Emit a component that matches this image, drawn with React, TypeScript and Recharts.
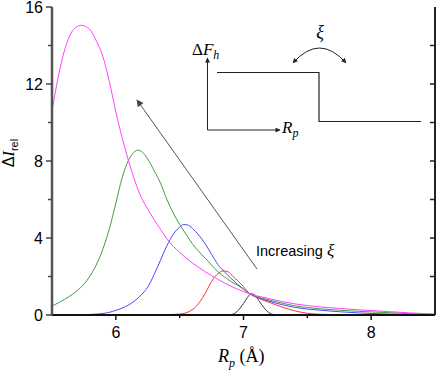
import React from 'react';
import { LineChart, Line, XAxis, YAxis } from 'recharts';

// R_p (Å) sample positions and ΔI_rel values, one pair of arrays per curve (ξ increasing: black -> magenta)
const rpBlack = [5.5, 6.88, 6.92, 6.96, 7.0, 7.03, 7.06, 7.09, 7.12, 7.16, 7.2, 7.24, 7.3, 8.5];
const diBlack = [0, 0, 0.05, 0.25, 0.6, 0.9, 1.1, 1.02, 0.75, 0.38, 0.12, 0.02, 0, 0];

const rpRed = [5.5, 6.0, 6.3, 6.4, 6.5, 6.55, 6.6, 6.63, 6.66, 6.7, 6.73, 6.76, 6.8, 6.84, 6.88, 6.92, 6.96, 7.0, 7.05, 7.1, 7.15, 7.2, 7.3, 7.4, 7.5, 7.6, 7.8, 8.0, 8.5];
const diRed = [0, 0, 0.01, 0.02, 0.05, 0.11, 0.28, 0.45, 0.7, 1.12, 1.5, 1.85, 2.15, 2.29, 2.24, 1.99, 1.75, 1.47, 1.1, 0.92, 0.78, 0.66, 0.42, 0.22, 0.09, 0.04, 0.01, 0, 0];

const rpBlue = [5.5, 5.7, 5.8, 5.9, 5.95, 6.0, 6.05, 6.1, 6.15, 6.2, 6.25, 6.3, 6.35, 6.4, 6.45, 6.5, 6.53, 6.56, 6.6, 6.65, 6.7, 6.75, 6.8, 6.85, 6.9, 7.0, 7.05, 7.1, 7.2, 7.3, 7.4, 7.5, 7.6, 7.75, 7.9, 8.0, 8.15, 8.3, 8.5];
const diBlue = [0, 0.01, 0.03, 0.08, 0.14, 0.24, 0.36, 0.52, 0.75, 1.05, 1.45, 2.1, 2.85, 3.6, 4.2, 4.57, 4.7, 4.68, 4.5, 4.15, 3.7, 3.15, 2.62, 2.25, 1.92, 1.35, 1.1, 0.95, 0.72, 0.54, 0.4, 0.31, 0.25, 0.17, 0.11, 0.08, 0.05, 0.03, 0.01];

const rpGreen = [5.5, 5.55, 5.6, 5.65, 5.7, 5.75, 5.8, 5.85, 5.9, 5.95, 6.0, 6.05, 6.1, 6.15, 6.17, 6.2, 6.25, 6.3, 6.35, 6.4, 6.45, 6.5, 6.55, 6.6, 6.65, 6.7, 6.8, 6.9, 7.0, 7.05, 7.1, 7.2, 7.3, 7.4, 7.5, 7.6, 7.75, 7.9, 8.0, 8.15, 8.3, 8.5];
const diGreen = [0.47, 0.63, 0.82, 1.03, 1.28, 1.6, 2.05, 2.65, 3.45, 4.5, 5.8, 7.15, 8.05, 8.5, 8.57, 8.5, 8.1, 7.5, 6.85, 6.0, 5.3, 4.7, 4.2, 3.7, 3.3, 2.95, 2.25, 1.75, 1.35, 1.1, 0.97, 0.78, 0.62, 0.48, 0.39, 0.32, 0.25, 0.19, 0.16, 0.12, 0.07, 0.03];

const rpMagenta = [5.5, 5.55, 5.6, 5.65, 5.7, 5.73, 5.76, 5.8, 5.85, 5.9, 5.95, 6.0, 6.05, 6.1, 6.15, 6.2, 6.25, 6.3, 6.35, 6.4, 6.5, 6.6, 6.7, 6.8, 6.9, 7.0, 7.05, 7.1, 7.2, 7.3, 7.4, 7.5, 7.6, 7.75, 7.9, 8.0, 8.15, 8.3, 8.5];
const diMagenta = [10.6, 12.4, 13.8, 14.65, 15.0, 15.05, 15.0, 14.8, 14.2, 13.4, 12.1, 10.55, 9.2, 8.0, 6.95, 6.1, 5.5, 4.95, 4.45, 3.95, 3.25, 2.7, 2.25, 1.85, 1.5, 1.22, 1.1, 1.0, 0.85, 0.7, 0.58, 0.49, 0.42, 0.34, 0.27, 0.23, 0.17, 0.11, 0.05];

const xTicks = [6, 6.5, 7, 7.5, 8];
const yTicks = [0, 2, 4, 6, 8, 10, 12, 14, 16];
const rightTicks = [2, 4, 6, 8, 10, 12, 14];

const toRows = (rp: number[], di: number[]) => rp.map((r, i) => ({ r, v: di[i] }));

const series = [
  { name: 'black', color: '#333333', data: toRows(rpBlack, diBlack) },
  { name: 'red', color: '#ff3434', data: toRows(rpRed, diRed) },
  { name: 'blue', color: '#4848ff', data: toRows(rpBlue, diBlue) },
  { name: 'green', color: '#3f9f3f', data: toRows(rpGreen, diGreen) },
  { name: 'magenta', color: '#ff40ff', data: toRows(rpMagenta, diMagenta) },
];

const sans = '"Liberation Sans", Arial, sans-serif';
const serif = '"Liberation Serif", "Times New Roman", serif';

const BottomTick = (props: any) => {
  const { x, y, payload } = props;
  const major = Number.isInteger(payload.value);
  return (
    <g>
      <line x1={x} y1={y} x2={x} y2={y + (major ? 5 : 3)} stroke="#111" strokeWidth={1.5} />
      {major && (
        <text x={x} y={y + 23} textAnchor="middle" fontSize={16} fontFamily={sans} fill="#000">
          {payload.value}
        </text>
      )}
    </g>
  );
};

const LeftTick = (props: any) => {
  const { x, y, payload } = props;
  const major = payload.value % 4 === 0;
  return (
    <g>
      <line x1={x} y1={y} x2={x - (major ? 6 : 4)} y2={y} stroke="#444" strokeWidth={1.5} />
      {major && (
        <text x={x - 9} y={y + 5.5} textAnchor="end" fontSize={16} fontFamily={sans} fill="#000">
          {payload.value}
        </text>
      )}
    </g>
  );
};

const TopTick = (props: any) => {
  const { x, y } = props;
  return <line x1={x} y1={y} x2={x} y2={y + 6} stroke="#444" strokeWidth={1.5} />;
};

const RightTick = (props: any) => {
  const { x, y } = props;
  return <line x1={x} y1={y} x2={x - 5} y2={y} stroke="#222" strokeWidth={1.5} />;
};

export default function App() {
  return (
    <div style={{ position: 'absolute', left: 0, top: 0, width: 436, height: 372, background: '#fff' }}>
      <LineChart width={436} height={372} margin={{ top: 7, right: 0, bottom: 0, left: 0 }}>
        <XAxis
          xAxisId="main"
          dataKey="r"
          type="number"
          domain={[5.5, 8.5]}
          ticks={xTicks}
          interval={0}
          allowDataOverflow
          height={57}
          tickSize={0}
          tickMargin={0}
          tickLine={false}
          axisLine={{ stroke: '#111', strokeWidth: 2 }}
          tick={<BottomTick />}
        />
        <XAxis
          xAxisId="top"
          orientation="top"
          type="number"
          domain={[5.5, 8.5]}
          ticks={xTicks}
          interval={0}
          allowDataOverflow
          height={0}
          tickSize={0}
          tickMargin={0}
          tickLine={false}
          axisLine={{ stroke: '#555', strokeWidth: 2.5 }}
          tick={<TopTick />}
        />
        <YAxis
          yAxisId="main"
          type="number"
          domain={[0, 16]}
          ticks={yTicks}
          interval={0}
          allowDataOverflow
          width={52}
          tickSize={0}
          tickMargin={0}
          tickLine={false}
          axisLine={{ stroke: '#555', strokeWidth: 2.5 }}
          tick={<LeftTick />}
        />
        <YAxis
          yAxisId="right"
          orientation="right"
          type="number"
          domain={[0, 16]}
          ticks={rightTicks}
          interval={0}
          allowDataOverflow
          width={1}
          tickSize={0}
          tickMargin={0}
          tickLine={false}
          axisLine={{ stroke: '#222', strokeWidth: 2 }}
          tick={<RightTick />}
        />
        {series.map((s) => (
          <Line
            key={s.name}
            xAxisId="main"
            yAxisId="main"
            data={s.data}
            dataKey="v"
            type="monotone"
            stroke={s.color}
            strokeWidth={1}
            dot={false}
            activeDot={false}
            isAnimationActive={false}
          />
        ))}
      </LineChart>
      <svg width={436} height={372} style={{ position: 'absolute', left: 0, top: 0, pointerEvents: 'none' }}>
        <defs>
          <marker id="head" viewBox="0 0 10 10" refX="9" refY="5" markerWidth="9" markerHeight="7" markerUnits="userSpaceOnUse" orient="auto-start-reverse">
            <path d="M0,0 L10,5 L0,10 z" fill="#444" />
          </marker>
          <marker id="smallhead" viewBox="0 0 10 10" refX="9" refY="5" markerWidth="6" markerHeight="5" markerUnits="userSpaceOnUse" orient="auto-start-reverse">
            <path d="M0,0 L10,5 L0,10 z" fill="#222" />
          </marker>
        </defs>
        {/* y axis title */}
        <text transform="rotate(-90 14 153)" x={14} y={153} textAnchor="middle" fontSize={16} fill="#000">
          <tspan fontFamily={sans}>Δ</tspan>
          <tspan fontFamily={serif} fontStyle="italic">I</tspan>
          <tspan fontFamily={sans} fontSize={11} dy={4}>rel</tspan>
        </text>
        {/* x axis title */}
        <text x={218} y={362} fontSize={18} fontFamily={serif} fill="#000">
          <tspan fontStyle="italic">R</tspan>
          <tspan fontStyle="italic" fontSize={12} dy={5}>p</tspan>
          <tspan dy={-5}> (Å)</tspan>
        </text>
        {/* increasing-ξ arrow */}
        <line x1={257} y1={269} x2={137} y2={100} stroke="#555" strokeWidth={1} markerEnd="url(#head)" />
        <text x={256} y={256} fontSize={14.5} fontFamily={sans} fill="#000">
          Increasing <tspan fontFamily={serif} fontStyle="italic" fontSize={17}>ξ</tspan>
        </text>
        {/* inset schematic */}
        <line x1={207.5} y1={130} x2={207.5} y2={58} stroke="#222" strokeWidth={1} markerEnd="url(#smallhead)" />
        <line x1={207.5} y1={130} x2={280} y2={130} stroke="#222" strokeWidth={1} markerEnd="url(#smallhead)" />
        <polyline points="217,72.5 319,72.5 319,121.5 421,121.5" fill="none" stroke="#222" strokeWidth={1.2} />
        <path d="M 293 63 Q 319.5 33 346 63" fill="none" stroke="#222" strokeWidth={1} markerStart="url(#smallhead)" markerEnd="url(#smallhead)" />
        <text x={192} y={55} fontSize={17} fontFamily={serif} fill="#000">
          Δ<tspan fontStyle="italic">F</tspan>
          <tspan fontStyle="italic" fontSize={12} dy={4}>h</tspan>
        </text>
        <text x={282} y={133} fontSize={17} fontFamily={serif} fill="#000">
          <tspan fontStyle="italic">R</tspan>
          <tspan fontStyle="italic" fontSize={12} dy={4}>p</tspan>
        </text>
        <text x={320} y={38} textAnchor="middle" fontSize={18} fontFamily={serif} fontStyle="italic" fill="#000">ξ</text>
      </svg>
    </div>
  );
}
